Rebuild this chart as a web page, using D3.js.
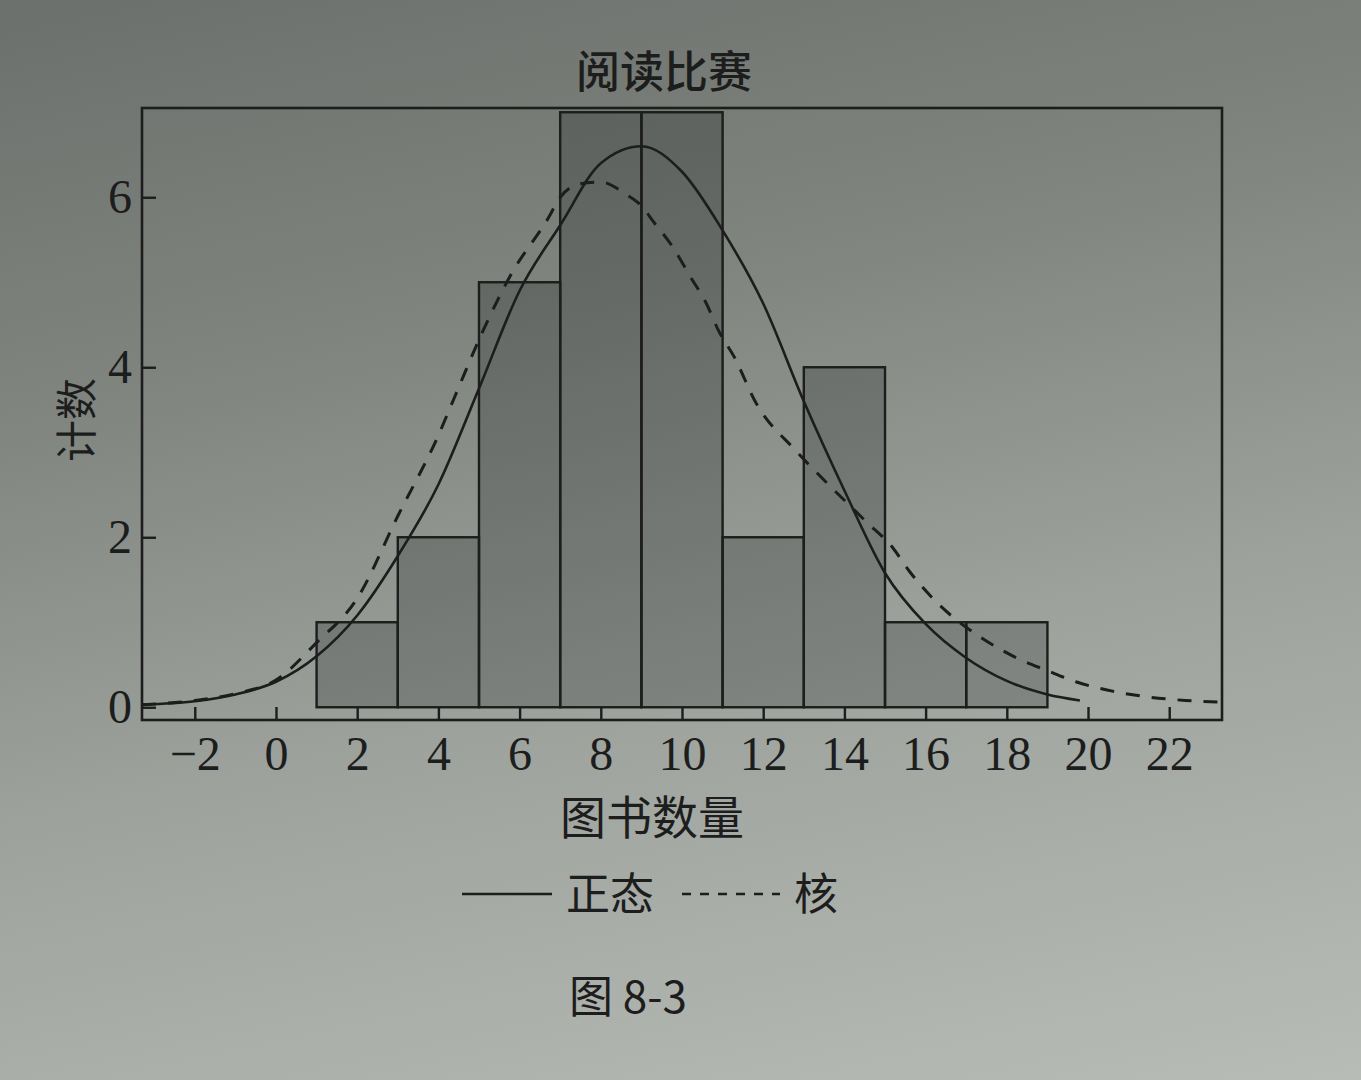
<!DOCTYPE html>
<html>
<head>
<meta charset="utf-8">
<script src="https://cdn.jsdelivr.net/npm/d3@7"></script>
<style>
  html, body { margin: 0; padding: 0; }
  body {
    width: 1361px; height: 1080px; overflow: hidden;
    background: linear-gradient(168deg, #6b706c 0%, #7f847f 30%, #9ea39e 62%, #b7bcb7 100%);
  }
  svg { display: block; }
</style>
</head>
<body>
<svg id="chart" width="1361" height="1080"></svg>
<script>
// ---- data ----
const binStarts = [1, 3, 5, 7, 9, 11, 13, 15, 17];
const binWidth = 2;
const binCounts = [1, 2, 5, 7, 7, 2, 4, 1, 1];

const normalX = [-3.3, -2, -1, 0, 1, 2, 3, 4, 5, 6, 7, 8, 9, 10, 11, 12, 13, 14, 15, 16, 17, 18, 19, 19.8];
const normalY = [0.03, 0.07, 0.15, 0.3, 0.6, 1.08, 1.78, 2.62, 3.75, 4.9, 5.67, 6.4, 6.6, 6.3, 5.61, 4.75, 3.6, 2.55, 1.58, 0.98, 0.58, 0.31, 0.15, 0.08];

const kernelX = [-3.3, -2, -1, 0, 1, 2, 3, 4, 4.4, 5.1, 5.8, 6.7, 7.0, 7.5, 8.0, 8.6, 9.0, 9.3, 9.75, 10.2, 10.6, 10.9, 11.3, 11.8, 12.8, 13.4, 14.5, 15.2, 15.6, 16.2, 16.7, 17.4, 18.2, 19.0, 19.7, 20.6, 21.5, 22.4, 23.3];
const kernelY = [0.03, 0.08, 0.16, 0.32, 0.76, 1.28, 2.25, 3.2, 3.65, 4.43, 5.1, 5.75, 6.0, 6.16, 6.18, 6.04, 5.9, 5.71, 5.43, 5.07, 4.75, 4.43, 4.11, 3.6, 3.02, 2.72, 2.2, 1.87, 1.6, 1.27, 1.05, 0.81, 0.59, 0.43, 0.3, 0.19, 0.12, 0.08, 0.06];

const xTicks = [-2, 0, 2, 4, 6, 8, 10, 12, 14, 16, 18, 20, 22];
const yTicks = [0, 2, 4, 6];
const xDomain = [-3.3, 23.3];
const yDomain = [-0.15, 7.05];

const titleText = "阅读比赛";
const xTitle = "图书数量";
const yTitle = "计数";
const legendNames = ["正态", "核"];
const captionText = "图 8-3";

// ---- layout ----
const pLeft = 142, pRight = 1222, pTop = 108, pBottom = 720;
const ink = "#1c1d1c";
const svg = d3.select("#chart");

const x = d3.scaleLinear().domain(xDomain).range([pLeft, pRight]);
const y = d3.scaleLinear().domain(yDomain).range([pBottom, pTop]);

svg.append("defs").append("clipPath").attr("id", "plotclip")
  .append("rect").attr("x", pLeft).attr("y", pTop - 20).attr("width", pRight - pLeft).attr("height", pBottom - pTop + 20);

// bars
svg.append("g").selectAll("rect").data(binStarts).join("rect")
  .attr("x", (d) => x(d))
  .attr("width", (d) => x(d + binWidth) - x(d))
  .attr("y", (d, i) => y(binCounts[i]))
  .attr("height", (d, i) => y(0) - y(binCounts[i]))
  .attr("fill", "rgba(0,0,0,0.2)")
  .attr("stroke", ink)
  .attr("stroke-width", 2.4);

// curves
const lineGen = d3.line().x((d) => x(d[0])).y((d) => y(d[1])).curve(d3.curveMonotoneX);
const curves = svg.append("g").attr("clip-path", "url(#plotclip)");
curves.append("path")
  .attr("d", lineGen(normalX.map((v, i) => [v, normalY[i]])))
  .attr("fill", "none").attr("stroke", ink).attr("stroke-width", 2.6);
curves.append("path")
  .attr("d", lineGen(kernelX.map((v, i) => [v, kernelY[i]])))
  .attr("fill", "none").attr("stroke", ink).attr("stroke-width", 3)
  .attr("stroke-dasharray", "14 12");

// axes (inward ticks)
const xAxis = svg.append("g").attr("transform", `translate(0,${pBottom})`)
  .call(d3.axisBottom(x).tickValues(xTicks).tickSizeInner(-13).tickSizeOuter(0).tickPadding(16));
const yAxis = svg.append("g").attr("transform", `translate(${pLeft},0)`)
  .call(d3.axisLeft(y).tickValues(yTicks).tickSizeInner(-14).tickSizeOuter(0).tickPadding(10));
[xAxis, yAxis].forEach((g) => {
  g.select(".domain").remove();
  g.selectAll(".tick line").attr("stroke", ink).attr("stroke-width", 2.4);
  g.selectAll(".tick text")
    .attr("fill", ink)
    .style("font-family", "'Liberation Serif', 'DejaVu Serif', serif")
    .style("font-size", "48px");
});

// frame
svg.append("rect")
  .attr("x", pLeft).attr("y", pTop).attr("width", pRight - pLeft).attr("height", pBottom - pTop)
  .attr("fill", "none").attr("stroke", ink).attr("stroke-width", 2.6);

const cjk = "'Noto Sans CJK SC', 'Noto Sans', sans-serif";

// title
svg.append("text").attr("x", 664).attr("y", 88)
  .attr("text-anchor", "middle").attr("fill", ink)
  .style("font-family", cjk).style("font-size", "44px").style("font-weight", 500)
  .text(titleText);

// y title
svg.append("text").attr("transform", "translate(92,420) rotate(-90)")
  .attr("text-anchor", "middle").attr("fill", ink)
  .style("font-family", cjk).style("font-size", "42px")
  .text(yTitle);

// x title
svg.append("text").attr("x", 652).attr("y", 834)
  .attr("text-anchor", "middle").attr("fill", ink)
  .style("font-family", cjk).style("font-size", "46px")
  .text(xTitle);

// legend
const lg = svg.append("g");
lg.append("line").attr("x1", 462).attr("x2", 552).attr("y1", 894).attr("y2", 894)
  .attr("stroke", ink).attr("stroke-width", 2.6);
lg.append("text").attr("x", 566).attr("y", 910).attr("fill", ink)
  .style("font-family", cjk).style("font-size", "44px").text(legendNames[0]);
lg.append("line").attr("x1", 682).attr("x2", 780).attr("y1", 894).attr("y2", 894)
  .attr("stroke", ink).attr("stroke-width", 2.6).attr("stroke-dasharray", "9 9");
lg.append("text").attr("x", 794).attr("y", 910).attr("fill", ink)
  .style("font-family", cjk).style("font-size", "44px").text(legendNames[1]);

// caption
svg.append("text").attr("x", 628).attr("y", 1013)
  .attr("text-anchor", "middle").attr("fill", ink)
  .style("font-family", cjk).style("font-size", "44px")
  .text(captionText);
</script>
</body>
</html>
